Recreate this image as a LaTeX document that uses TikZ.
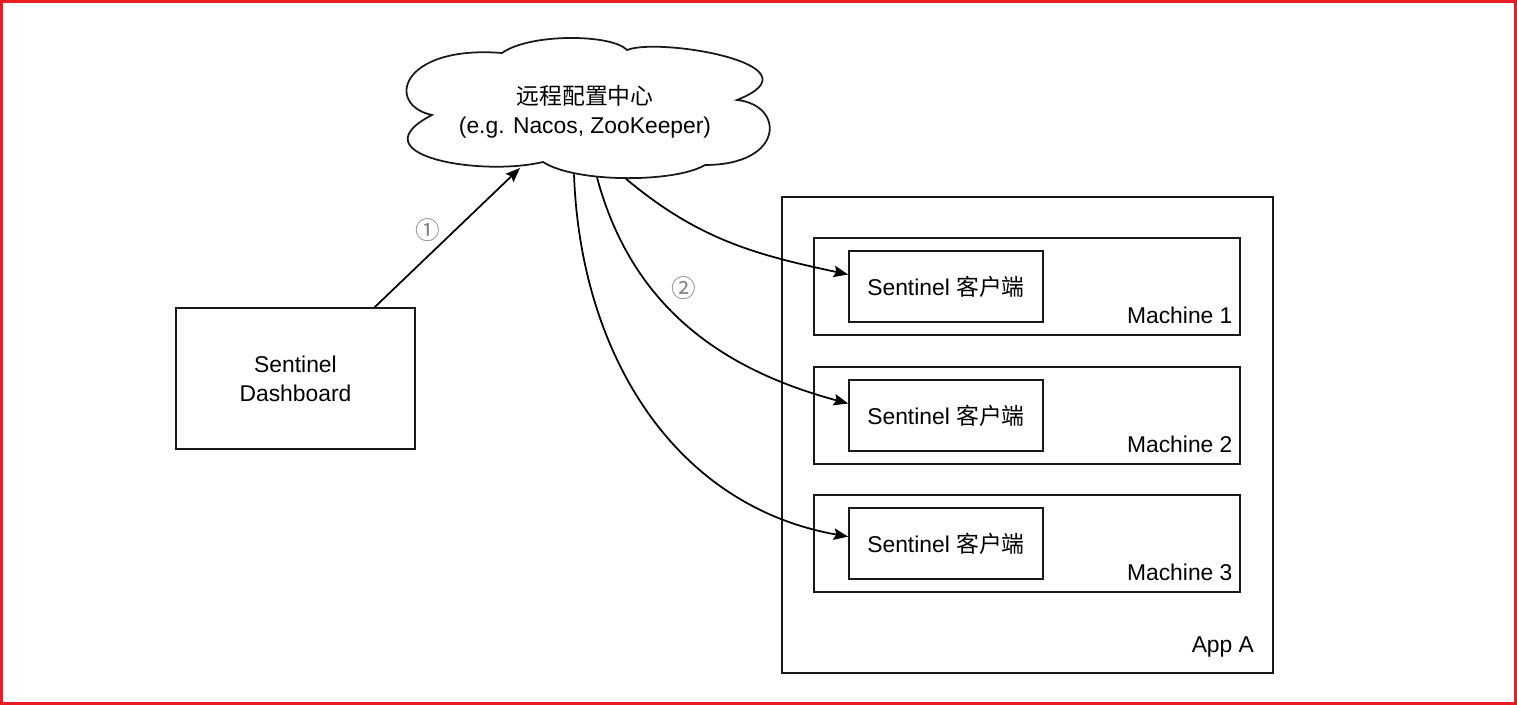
\documentclass[tikz,border=0pt]{standalone}
\usepackage{fontspec}
\setmainfont{Liberation Sans}
\newfontfamily\cjk{Noto Sans CJK SC}
\usetikzlibrary{positioning}
\usetikzlibrary{arrows.meta}
\usetikzlibrary{calc}
\definecolor{frame}{RGB}{232,30,38}

\begin{document}
\begin{tikzpicture}[
      x = 0.02cm, y = 0.02cm,
      >={Stealth[length=2.9mm, width=2.3mm, inset=0.5mm]},
      line width = 1pt,
      font = \fontsize{13pt}{16.5pt}\selectfont,
      box/.style = {
        rectangle, draw = black!90, line width = 1pt,
        inner sep = 0pt
      },
      client/.style = { box, minimum width = 3.88cm, minimum height = 1.42cm },
      machine/.style = { box, minimum width = 8.52cm, minimum height = 1.94cm },
      tag/.style = { anchor = south east, inner xsep = 0.15cm, inner ysep = 0.23cm },
      num/.style = { text = gray, font = \cjk\fontsize{14pt}{14pt}\selectfont },
    ]

    \useasboundingbox (0,0) rectangle (1517,705);
    \draw[frame, line width = 0.06cm] (1.5,1.5) rectangle (1515.5,703.5);

    % cloud: text node plus a hand drawn outline
    \node[align = center, inner sep = 0pt, minimum width = 7.36cm,
          minimum height = 2.64cm] (cloud) at (585,593)
      {{\cjk 远程配置中心}\\(e.g. Nacos, ZooKeeper)};
    \draw[black!90] (502,652)
      .. controls (530,672) and (612,671) .. (627,655)
      .. controls (660,668) and (825,640) .. (737,605)
      .. controls (785,600) and (785,540) .. (705,540)
      .. controls (675,522) and (575,522) .. (543,543)
      .. controls (480,528) and (355,550) .. (432,590)
      .. controls (385,600) and (400,660) .. cycle;
    \coordinate (cin) at (520,537);

    \node[box, minimum width = 4.78cm, minimum height = 2.82cm,
          align = center] (dash) at (295.5,326.5) {Sentinel\\Dashboard};

    \node[box, minimum width = 9.82cm, minimum height = 9.52cm] (app) at (1027.5,270) {};
    \node[anchor = south east, inner xsep = 0.38cm, inner ysep = 0.32cm]
      (applabel) at (app.south east) {App A};

    \foreach \i/\y in {1/418.5, 2/289.5, 3/161.5} {
      \node[machine] (M\i) at (1027,\y) {};
      \node[client, right = 0.7cm of M\i.west] (C\i) {Sentinel {\cjk 客户端}};
      \node[tag] (L\i) at (M\i.south east) {Machine \i};
    }

    \draw[->] (dash.42.7) -- (cin);
    \node[num] (n1) at (428,475) {①};

    \foreach \i/\dx/\dy/\o/\e/\t in {1/41/0/-40/168/173, 2/12/1.5/-75/165/173, 3/-11/4.5/-88/170/176} {
      \draw[->] ($(cloud.south)+(\dx,\dy)$) to[out=\o, in=\e] (C\i.\t);
    }
    \node[num] (n2) at (684,417) {②};
  \end{tikzpicture}
\end{document}
